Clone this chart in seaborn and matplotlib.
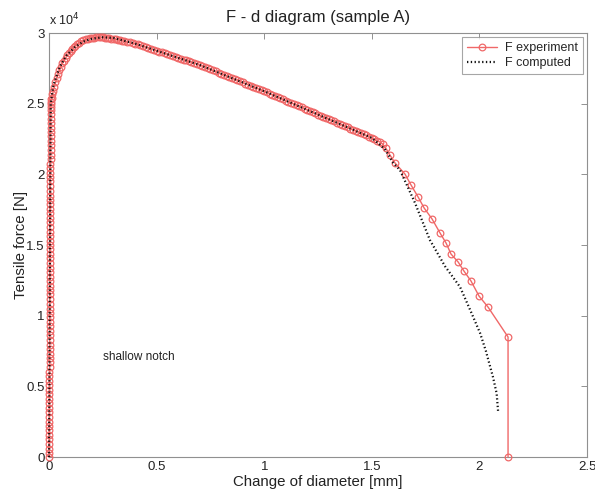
import matplotlib
matplotlib.use("Agg")
import matplotlib.pyplot as plt
import seaborn as sns
import pandas as pd

# ---- data ----
# experiment: elastic rise at d ~ 0
rise_x = [0.000, 0.000, 0.000, 0.000, 0.001, 0.001, 0.001, 0.001, 0.001, 0.001,
          0.001, 0.002, 0.002, 0.002, 0.002, 0.002, 0.002, 0.002, 0.002, 0.002,
          0.003, 0.003, 0.003, 0.003, 0.003, 0.003, 0.003, 0.003, 0.003, 0.003,
          0.003, 0.004, 0.004, 0.004, 0.004, 0.004, 0.004, 0.004, 0.004, 0.004,
          0.004, 0.004, 0.005, 0.005, 0.005, 0.005, 0.005, 0.005, 0.005, 0.005,
          0.005, 0.005, 0.005, 0.005, 0.006, 0.006, 0.006, 0.006, 0.006, 0.006,
          0.006, 0.006, 0.006, 0.006, 0.006, 0.006, 0.007, 0.007, 0.007, 0.007,
          0.007, 0.007, 0.007, 0.007, 0.008, 0.008, 0.008, 0.008, 0.008, 0.009,
          0.009, 0.009]
rise_y = [0, 250, 600, 900, 1250, 1550, 1900, 2200, 2500, 2850,
          3150, 3500, 3800, 4100, 4450, 4750, 5100, 5400, 5700, 6050,
          6350, 6700, 7000, 7300, 7650, 7950, 8300, 8600, 8900, 9250,
          9550, 9900, 10200, 10500, 10850, 11150, 11500, 11800, 12100, 12450,
          12750, 13100, 13400, 13700, 14050, 14350, 14700, 15000, 15300, 15650,
          15950, 16300, 16600, 16900, 17250, 17550, 17900, 18200, 18500, 18850,
          19150, 19500, 19800, 20100, 20450, 20750, 21100, 21400, 21700, 22050,
          22350, 22700, 23000, 23300, 23650, 23950, 24300, 24550, 24800, 25000,
          25150, 25300]
# experiment: hardening peak and softening plateau
plat_x = [0.012, 0.016, 0.020, 0.025, 0.030, 0.036, 0.042, 0.048, 0.055, 0.062,
          0.070, 0.078, 0.085, 0.093, 0.100, 0.108, 0.115, 0.122, 0.130, 0.140,
          0.150, 0.160, 0.170, 0.180, 0.190, 0.200, 0.210, 0.220, 0.230, 0.240,
          0.250, 0.260, 0.270, 0.280, 0.290, 0.300, 0.310, 0.320, 0.330, 0.340,
          0.350, 0.362, 0.375, 0.388,
          0.400, 0.412, 0.425, 0.438, 0.450, 0.462, 0.475, 0.488, 0.500, 0.512,
          0.525, 0.538, 0.550, 0.562, 0.575, 0.588, 0.600, 0.612, 0.625, 0.638,
          0.650, 0.662, 0.675, 0.688, 0.700, 0.712, 0.725, 0.738, 0.750, 0.762,
          0.775, 0.788, 0.800, 0.812, 0.825, 0.838, 0.850, 0.862, 0.875, 0.888,
          0.900, 0.912, 0.925, 0.938, 0.950, 0.962, 0.975, 0.988, 1.000, 1.012,
          1.025, 1.038, 1.050, 1.062, 1.075, 1.088, 1.100, 1.112, 1.125, 1.138,
          1.150, 1.162, 1.175, 1.188, 1.200, 1.212, 1.225, 1.238, 1.250, 1.262,
          1.275, 1.288, 1.300, 1.312, 1.325, 1.338, 1.350, 1.362, 1.375, 1.388,
          1.400, 1.412, 1.425, 1.438, 1.450, 1.462, 1.475, 1.488, 1.500, 1.512,
          1.525, 1.538, 1.550]
plat_y = [25400, 25650, 25900, 26200, 26500, 26800, 27100, 27350, 27600, 27850,
          28050, 28250, 28450, 28600, 28750, 28880, 29000, 29100, 29200, 29300,
          29400, 29480, 29550, 29600, 29630, 29660, 29680, 29690, 29700, 29700,
          29690, 29680, 29660, 29640, 29610, 29580, 29550, 29520, 29480, 29450,
          29410, 29370, 29330, 29290,
          29250, 29190, 29130, 29060, 29000, 28940, 28880, 28810, 28750, 28690,
          28630, 28560, 28500, 28440, 28380, 28310, 28250, 28190, 28120, 28060,
          28000, 27930, 27870, 27800, 27740, 27660, 27590, 27510, 27430, 27350,
          27280, 27200, 27120, 27040, 26970, 26890, 26810, 26730, 26660, 26580,
          26500, 26420, 26350, 26270, 26190, 26110, 26030, 25950, 25880, 25800,
          25720, 25630, 25550, 25470, 25390, 25300, 25220, 25140, 25060, 24970,
          24890, 24810, 24730, 24640, 24560, 24480, 24400, 24310, 24230, 24150,
          24070, 23980, 23900, 23820, 23740, 23650, 23570, 23490, 23410, 23320,
          23240, 23160, 23080, 22990, 22910, 22830, 22750, 22660, 22580, 22490,
          22390, 22280, 22150]
# experiment: final drop to fracture
drop_x = [1.565, 1.585, 1.608, 1.654, 1.682, 1.715, 1.743, 1.780, 1.817, 1.845,
          1.868, 1.901, 1.928, 1.961, 1.998, 2.040, 2.133, 2.133]
drop_y = [21850, 21350, 20800, 20020, 19250, 18400, 17620, 16840, 15850, 15140,
          14360, 13800, 13160, 12450, 11390, 10610, 8490, 0]

exp_x = rise_x + plat_x + drop_x
exp_y = rise_y + plat_y + drop_y

comp_x = [0.000, 0.002, 0.004, 0.006, 0.008, 0.020, 0.050, 0.080, 0.120, 0.160,
          0.200, 0.250, 0.300, 0.400, 0.700, 1.000, 1.300, 1.500, 1.560, 1.600,
          1.631, 1.700, 1.770, 1.840, 1.910, 1.960, 2.003, 2.030, 2.063, 2.080,
          2.087]
comp_y = [0, 6000, 13000, 20000, 25000, 26300, 27600, 28400, 29000, 29400,
          29600, 29700, 29650, 29250, 27740, 25880, 23900, 22580, 21800, 20800,
          20300, 18000, 15350, 13500, 12030, 10300, 8770, 7500, 5660, 4500,
          3180]

y_ticks = [0, 5000, 10000, 15000, 20000, 25000, 30000]
y_tick_labels = ["0", "0.5", "1", "1.5", "2", "2.5", "3"]
x_ticks = [0, 0.5, 1, 1.5, 2, 2.5]
x_tick_labels = ["0", "0.5", "1", "1.5", "2", "2.5"]

exp_df = pd.DataFrame({"d": exp_x, "F": exp_y})
comp_df = pd.DataFrame({"d": comp_x, "F": comp_y})

sns.set_style("white")
plt.rcParams["font.family"] = ["Liberation Sans", "DejaVu Sans"]

fig = plt.figure(figsize=(5.95, 4.98), dpi=100)
ax = fig.add_axes([0.0824, 0.0823, 0.9042, 0.8514])

red = "#f06868"
sns.lineplot(data=exp_df, x="d", y="F", ax=ax, sort=False, estimator=None,
             color=red, linewidth=1.0, marker="o", markersize=4.8,
             markerfacecolor="none", markeredgecolor=red, markeredgewidth=0.9,
             label="F experiment", clip_on=False, zorder=3)
sns.lineplot(data=comp_df, x="d", y="F", ax=ax, sort=False, estimator=None,
             color="#111111", linewidth=1.6, linestyle=(0, (0.6, 1.1)),
             label="F computed", clip_on=False, zorder=4)

ax.set_xlim(0, 2.5)
ax.set_ylim(0, 30000)
ax.set_xticks(x_ticks)
ax.set_xticklabels(x_tick_labels)
ax.set_yticks(y_ticks)
ax.set_yticklabels(y_tick_labels)
ax.tick_params(direction="in", length=4, width=0.6, color="#808080",
               top=True, right=True, labelsize=9.5, labelcolor="#222222", pad=3)
for s in ax.spines.values():
    s.set_color("#909090")
    s.set_linewidth(0.8)
    s.set_zorder(1)

ax.set_xlabel("Change of diameter [mm]", fontsize=10.8, color="#222222", labelpad=1)
ax.set_ylabel("Tensile force [N]", fontsize=10.8, color="#222222", labelpad=-1)
ax.set_title("F - d diagram (sample A)", fontsize=12, color="#222222", pad=8)
ax.text(0.0, 1.012, "x 10$^4$", transform=ax.transAxes, fontsize=9,
        color="#222222", ha="left", va="bottom")
ax.text(0.25, 7100, "shallow notch", fontsize=8.5, color="#222222",
        ha="left", va="center")

leg = ax.legend(loc="upper right", fontsize=9, frameon=True, fancybox=False,
                borderpad=0.4, handlelength=2.4, handletextpad=0.6,
                labelspacing=0.2, borderaxespad=0.35)
leg.get_frame().set_edgecolor("#909090")
leg.get_frame().set_linewidth(0.8)
leg.set_zorder(10)

fig.savefig("out.png", dpi=100)
